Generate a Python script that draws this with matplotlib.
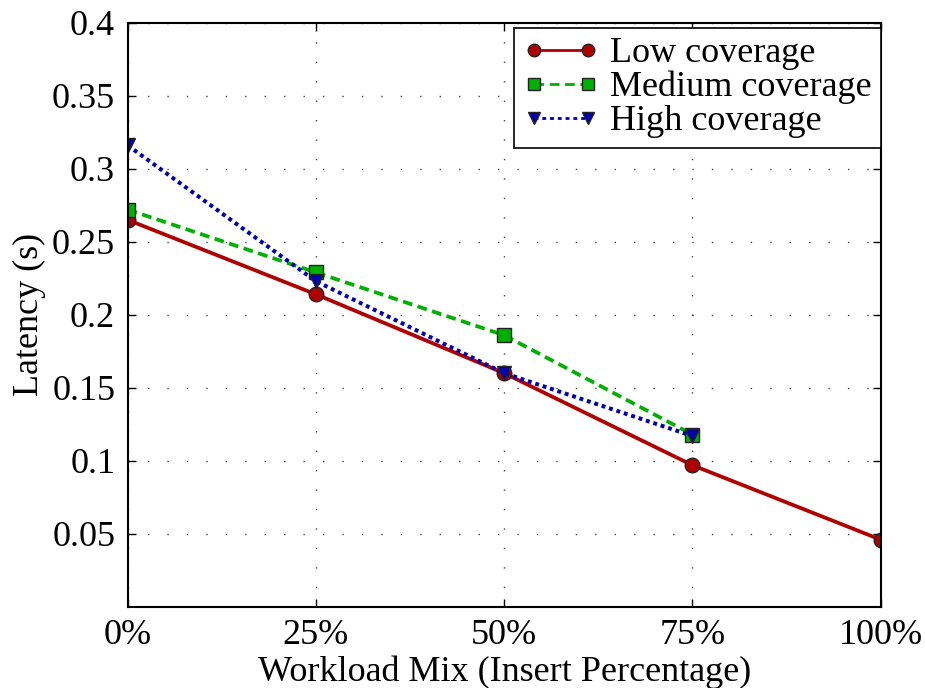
import matplotlib
matplotlib.use('Agg')
import matplotlib.pyplot as plt

plt.rcParams['font.family'] = ['Liberation Serif', 'DejaVu Serif']
plt.rcParams['lines.scale_dashes'] = False

x_pos = [0, 25, 50, 75, 100]
x_labels = ['0%', '25%', '50%', '75%', '100%']

low = [0.265, 0.214, 0.160, 0.097, 0.046]
medium = [0.272, 0.229, 0.186, 0.118]
high = [0.316, 0.223, 0.160, 0.117]

y_ticks = [0.05, 0.1, 0.15, 0.2, 0.25, 0.3, 0.35, 0.4]
y_labels = ['0.05', '0.1', '0.15', '0.2', '0.25', '0.3', '0.35', '0.4']

fig = plt.figure(figsize=(9.25, 6.88), dpi=100)
ax = fig.add_axes([0.138, 0.118, 0.814, 0.849])

ax.plot(x_pos, low, '-', color='#b00000', lw=2.7, marker='o', ms=10.5,
        mfc='#b00000', mec='#222222', mew=1, label='Low coverage')
ax.plot(x_pos[:4], medium, color='#00b000', lw=2.7, dashes=(7, 4),
        marker='s', ms=9.5, mfc='#00b000', mec='#222222', mew=1,
        label='Medium coverage')
ax.plot(x_pos[:4], high, color='#0000b0', lw=2.9, dashes=(2.8, 2.8),
        marker='v', ms=10.5, mfc='#0000b0', mec='#222222', mew=1,
        label='High coverage')

ax.set_xlim(0, 100)
ax.set_ylim(0, 0.4)
ax.set_xticks(x_pos)
ax.set_xticklabels(x_labels)
ax.set_yticks(y_ticks)
ax.set_yticklabels(y_labels)
ax.tick_params(labelsize=26, direction='in', top=True, right=True,
               length=6, width=1, pad=9)
ax.grid(True, color='#444444', lw=1, dashes=(1, 13))
for s in ax.spines.values():
    s.set_linewidth(1.5)

ax.set_xlabel('Workload Mix (Insert Percentage)', fontsize=26, labelpad=2)
ax.set_ylabel('Latency (s)', fontsize=26, labelpad=4)

leg = ax.legend(loc='upper right', bbox_to_anchor=(1.0, 0.991), fontsize=26,
                fancybox=False, framealpha=1, edgecolor='black',
                handlelength=2.1, borderpad=0.25, labelspacing=0.02,
                handletextpad=0.3, borderaxespad=0.0, numpoints=2)
leg.get_frame().set_linewidth(1.2)
for h in leg.legend_handles:
    h.set_linewidth(2.0)
    h.set_markersize(9)

fig.savefig('out.png', dpi=100)
